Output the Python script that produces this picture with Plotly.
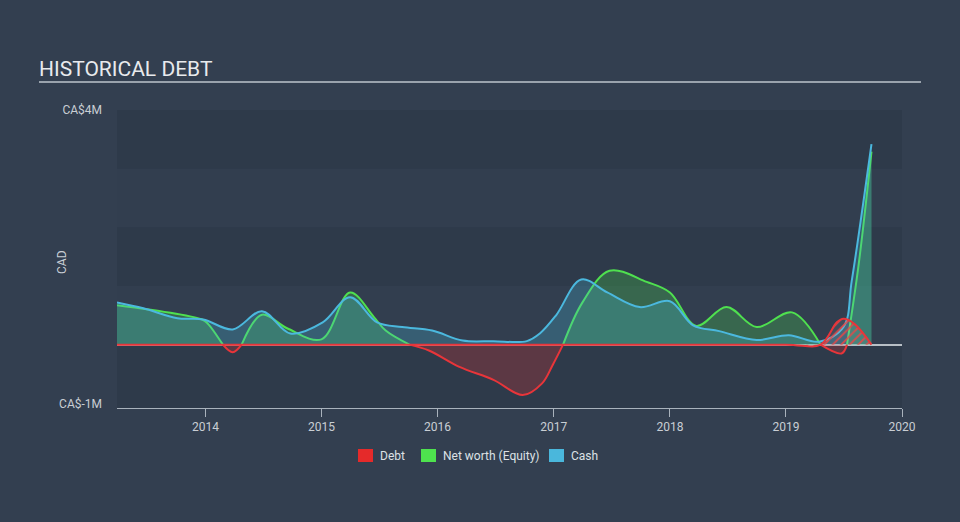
import plotly.graph_objects as go

# ---------------- data (CA$ millions) ----------------
cash_dates = ["2013-03-29", "2013-06-20", "2013-10-05", "2013-12-25", "2014-03-28",
              "2014-06-28", "2014-09-25", "2015-01-05", "2015-04-01", "2015-06-25",
              "2015-09-12", "2015-12-15", "2016-03-20", "2016-06-25", "2016-10-08",
              "2016-11-18", "2017-01-08", "2017-03-28", "2017-06-18", "2017-09-28",
              "2018-01-01", "2018-03-15", "2018-06-05", "2018-10-01", "2019-01-10",
              "2019-04-15", "2019-07-01", "2019-07-27", "2019-09-27"]
cash_vals = [0.72, 0.62, 0.45, 0.43, 0.26,
             0.57, 0.19, 0.38, 0.81, 0.38,
             0.30, 0.24, 0.07, 0.06, 0.06,
             0.19, 0.50, 1.11, 0.89, 0.64,
             0.74, 0.33, 0.23, 0.08, 0.16,
             0.05, 0.30, 1.09, 3.42]

equity_dates = ["2013-03-29", "2013-12-25", "2014-01-10", "2014-02-25", "2014-03-28",
                "2014-04-25", "2014-06-28", "2014-09-15", "2015-01-01", "2015-04-01",
                "2015-06-15", "2015-07-22", "2015-10-05", "2015-12-05", "2016-03-10",
                "2016-06-25", "2016-09-25", "2016-11-25", "2016-12-28", "2017-01-30",
                "2017-04-01", "2017-06-25", "2017-10-20", "2018-01-01", "2018-03-25",
                "2018-06-28", "2018-10-01", "2019-01-20", "2019-04-20", "2019-06-25",
                "2019-07-12", "2019-08-18", "2019-09-27"]
equity_vals = [0.67, 0.42, 0.35, 0.0, -0.13,
               0.0, 0.51, 0.28, 0.09, 0.89,
               0.47, 0.24, 0.0, -0.10, -0.38,
               -0.60, -0.86, -0.66, -0.35, 0.0,
               0.72, 1.26, 1.07, 0.89, 0.32,
               0.64, 0.30, 0.55, 0.0, -0.15,
               0.0, 1.38, 3.29]

debt_dates = ["2013-03-29", "2016-01-01", "2018-12-31", "2019-04-20", "2019-06-10",
              "2019-07-01", "2019-08-05", "2019-09-27"]
debt_vals = [0.0, 0.0, 0.0, 0.0, 0.38,
             0.44, 0.35, 0.0]

series_names = ["Debt", "Net worth (Equity)", "Cash"]
series_colors = ["#e52a2a", "#4ee24e", "#4ab7dc"]

y_tick_vals = [-1, 4]
y_tick_text = ["CA$-1M", "CA$4M"]
x_tick_vals = ["2014-01-01", "2015-01-01", "2016-01-01", "2017-01-01",
               "2018-01-01", "2019-01-01", "2020-01-01"]
x_tick_text = ["2014", "2015", "2016", "2017", "2018", "2019", "2020"]

# ---------------- styling ----------------
RED = "#e8353a"
GREEN = "#4fe04f"
BLUE = "#4bb8de"
PAPER = "#333f50"
PLOT = "#2e3a4a"
BAND = "#323e4f"
TXT = "#c9ced4"
FONT = "Roboto"

# plot-area pixel geometry (for placing decorations in paper coordinates)
PL, PR, PT, PB = 117, 902, 110, 408
def px(x):
    return (x - PL) / (PR - PL)
def py(y):
    return (PB - y) / (PB - PT)

eq_pos = [v if v >= 0 else None for v in equity_vals]
eq_neg = [v if v <= 0 else None for v in equity_vals]

fig = go.Figure()

fig.add_trace(go.Scatter(
    x=equity_dates, y=eq_pos, mode="lines", line=dict(color=GREEN, width=2, shape="spline"),
    fill="tozeroy", fillcolor="rgba(77,226,77,0.25)", name=series_names[1], hoverinfo="skip"))
fig.add_trace(go.Scatter(
    x=equity_dates, y=eq_neg, mode="lines", line=dict(color=RED, width=2, shape="spline"),
    fill="tozeroy", fillcolor="rgba(232,50,50,0.25)", name=series_names[1], hoverinfo="skip"))
fig.add_trace(go.Scatter(
    x=cash_dates, y=cash_vals, mode="lines", line=dict(color=BLUE, width=2, shape="spline"),
    fill="tozeroy", fillcolor="rgba(69,184,222,0.26)", name=series_names[2], hoverinfo="skip"))
fig.add_trace(go.Scatter(
    x=debt_dates, y=debt_vals, mode="lines", line=dict(color=RED, width=2, shape="spline"),
    fill="tozeroy",
    fillpattern=dict(shape="/", fgcolor="rgba(235,70,70,0.9)", bgcolor="rgba(200,200,210,0.10)",
                     size=6, solidity=0.3, fillmode="replace"),
    name=series_names[0], hoverinfo="skip"))

shapes = []
for lo, hi in [(0, 1), (2, 3)]:
    shapes.append(dict(type="rect", xref="paper", x0=0, x1=1, yref="y", y0=lo, y1=hi,
                       fillcolor=BAND, line=dict(width=0), layer="below"))
# title underline
shapes.append(dict(type="line", xref="paper", yref="paper",
                   x0=px(39), x1=px(921), y0=py(82), y1=py(82),
                   line=dict(color="#9aa3ad", width=2)))

annotations = [dict(text="CAD", xref="paper", yref="paper", x=px(62), y=py(262),
                    showarrow=False, textangle=-90, font=dict(family=FONT, size=12, color=TXT),
                    xanchor="center", yanchor="middle")]

# legend (swatch + label)
legend_left = [358, 421, 549]
for name, col, x0 in zip(series_names, series_colors, legend_left):
    shapes.append(dict(type="rect", xref="paper", yref="paper",
                       x0=px(x0), x1=px(x0 + 15), y0=py(462), y1=py(449),
                       fillcolor=col, line=dict(width=0)))
    annotations.append(dict(text=name, xref="paper", yref="paper", x=px(x0 + 20), y=py(456),
                            xanchor="left", yanchor="middle", showarrow=False,
                            font=dict(family=FONT, size=12, color="#dde1e5")))

fig.update_layout(
    width=960, height=522,
    margin=dict(l=PL, r=960 - PR, t=PT, b=522 - PB, autoexpand=False),
    paper_bgcolor=PAPER, plot_bgcolor=PLOT,
    font=dict(family=FONT, color=TXT, size=12),
    title=dict(text="HISTORICAL DEBT", xref="container", yref="container",
               x=39 / 960, xanchor="left", y=1 - 69 / 522, yanchor="middle",
               font=dict(family=FONT, size=21, color="#e8eaed")),
    shapes=shapes,
    annotations=annotations,
    showlegend=False,
)

fig.update_xaxes(
    type="date", range=["2013-03-29", "2020-01-01"],
    tickvals=x_tick_vals, ticktext=x_tick_text,
    showgrid=False, zeroline=False,
    showline=True, linecolor="#a9b2bc", linewidth=1,
    ticks="outside", ticklen=8, tickcolor="#a9b2bc", tickwidth=1,
    tickfont=dict(family=FONT, size=12, color=TXT),
)
fig.update_yaxes(
    range=[-1.08, 4.0],
    tickvals=y_tick_vals, ticktext=y_tick_text,
    showgrid=False,
    zeroline=True, zerolinecolor="#b8bfc6", zerolinewidth=2,
    showline=False, ticks="", ticklabelstandoff=14,
    tickfont=dict(family=FONT, size=12, color=TXT),
)

fig.write_html("out.html", config={"displayModeBar": False},
               post_script="document.body.style.margin='0';")
